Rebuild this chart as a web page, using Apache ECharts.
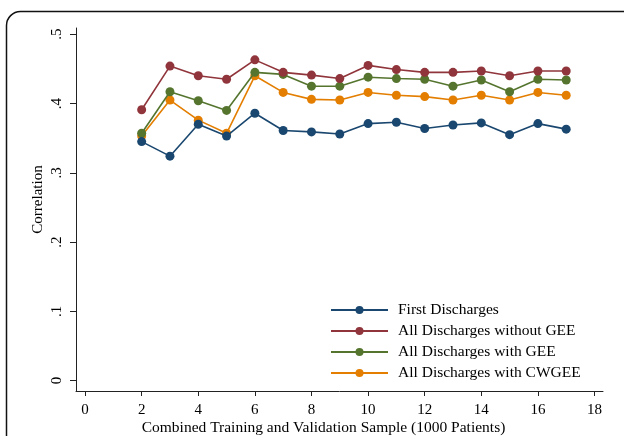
<!DOCTYPE html>
<html>
<head>
<meta charset="utf-8">
<script src="https://cdn.jsdelivr.net/npm/echarts@6/dist/echarts.min.js"></script>
<style>html,body{margin:0;padding:0;background:#fff;}#c{width:624px;height:436px;}</style>
</head>
<body>
<div id="c"></div>
<script>
const sampleSizes = [2,3,4,5,6,7,8,9,10,11,12,13,14,15,16,17];
const firstDischarges = [0.345,0.324,0.370,0.353,0.386,0.361,0.359,0.356,0.371,0.373,0.364,0.369,0.372,0.355,0.371,0.363];
const allWithoutGEE = [0.391,0.454,0.440,0.435,0.463,0.445,0.441,0.436,0.455,0.449,0.445,0.445,0.447,0.440,0.447,0.447];
const allWithGEE = [0.357,0.417,0.404,0.390,0.445,0.442,0.425,0.425,0.438,0.436,0.435,0.425,0.434,0.417,0.435,0.434];
const allWithCWGEE = [0.353,0.405,0.376,0.357,0.440,0.416,0.406,0.405,0.416,0.412,0.410,0.405,0.412,0.405,0.416,0.412];
const seriesNames = ['First Discharges','All Discharges without GEE','All Discharges with GEE','All Discharges with CWGEE'];
const seriesColors = ['#1a476f','#90353b','#55752f','#e37e00'];
const xTicks = [0,2,4,6,8,10,12,14,16,18];
const yTicks = [0,0.1,0.2,0.3,0.4,0.5];
const yTickLabels = ['0','.1','.2','.3','.4','.5'];

const font = 'Liberation Serif';
const dataSets = [firstDischarges, allWithoutGEE, allWithGEE, allWithCWGEE];
const chart = echarts.init(document.getElementById('c'), null, {renderer:'canvas'});
chart.setOption({
  backgroundColor: '#fff',
  animation: false,
  grid: {left: 76, right: 21, top: 28, bottom: 45, containLabel: false, outerBoundsMode: 'none'},
  xAxis: {
    type: 'value', min: -0.32, max: 18.3,
    name: 'Combined Training and Validation Sample (1000 Patients)',
    nameLocation: 'middle', nameGap: 29, nameMoveOverlap: false,
    nameTextStyle: {fontFamily: font, fontSize: 15.5, color: '#000', padding: [0, 32, 0, 0]},
    axisLine: {show: true, onZero: false, lineStyle: {color: '#222', width: 1}},
    axisTick: {show: true, length: 5, lineStyle: {color: '#222'}, customValues: xTicks},
    axisLabel: {fontFamily: font, fontSize: 15, color: '#000', margin: 12, customValues: xTicks},
    splitLine: {show: false}
  },
  yAxis: {
    type: 'value', min: -0.015, max: 0.509,
    name: 'Correlation', nameLocation: 'middle', nameGap: 30, nameRotate: 90, nameMoveOverlap: false,
    nameTextStyle: {fontFamily: font, fontSize: 15, color: '#000', padding: [0, 0, 0, 20]},
    axisLine: {show: true, onZero: false, lineStyle: {color: '#222', width: 1}},
    axisTick: {show: true, length: 6, lineStyle: {color: '#222'}, customValues: yTicks},
    axisLabel: {fontFamily: font, fontSize: 15, color: '#000', margin: 11, rotate: 90,
      customValues: yTicks,
      formatter: function(v){ const i = yTicks.findIndex(t => Math.abs(t - v) < 1e-9); return i >= 0 ? yTickLabels[i] : ''; }},
    splitLine: {show: false}
  },
  legend: {
    orient: 'vertical', left: 330, top: 302, padding: 0,
    itemWidth: 57, itemHeight: 10, itemGap: 5,
    textStyle: {fontFamily: font, fontSize: 15.5, color: '#000', lineHeight: 15, padding: [0,0,0,5]},
    data: seriesNames
  },
  series: dataSets.map((d, i) => ({
    name: seriesNames[i], type: 'line',
    data: sampleSizes.map((x, j) => [x, d[j]]),
    symbol: 'circle', symbolSize: 9,
    lineStyle: {width: 1.6, color: seriesColors[i]},
    itemStyle: {color: seriesColors[i]},
    z: 2 + (3 - i)
  })),
  graphic: [{
    type: 'rect', silent: true,
    shape: {x: 6.5, y: 11.5, width: 640, height: 500, r: 14},
    style: {fill: 'none', stroke: '#111', lineWidth: 1.5}
  }]
});
</script>
</body>
</html>
